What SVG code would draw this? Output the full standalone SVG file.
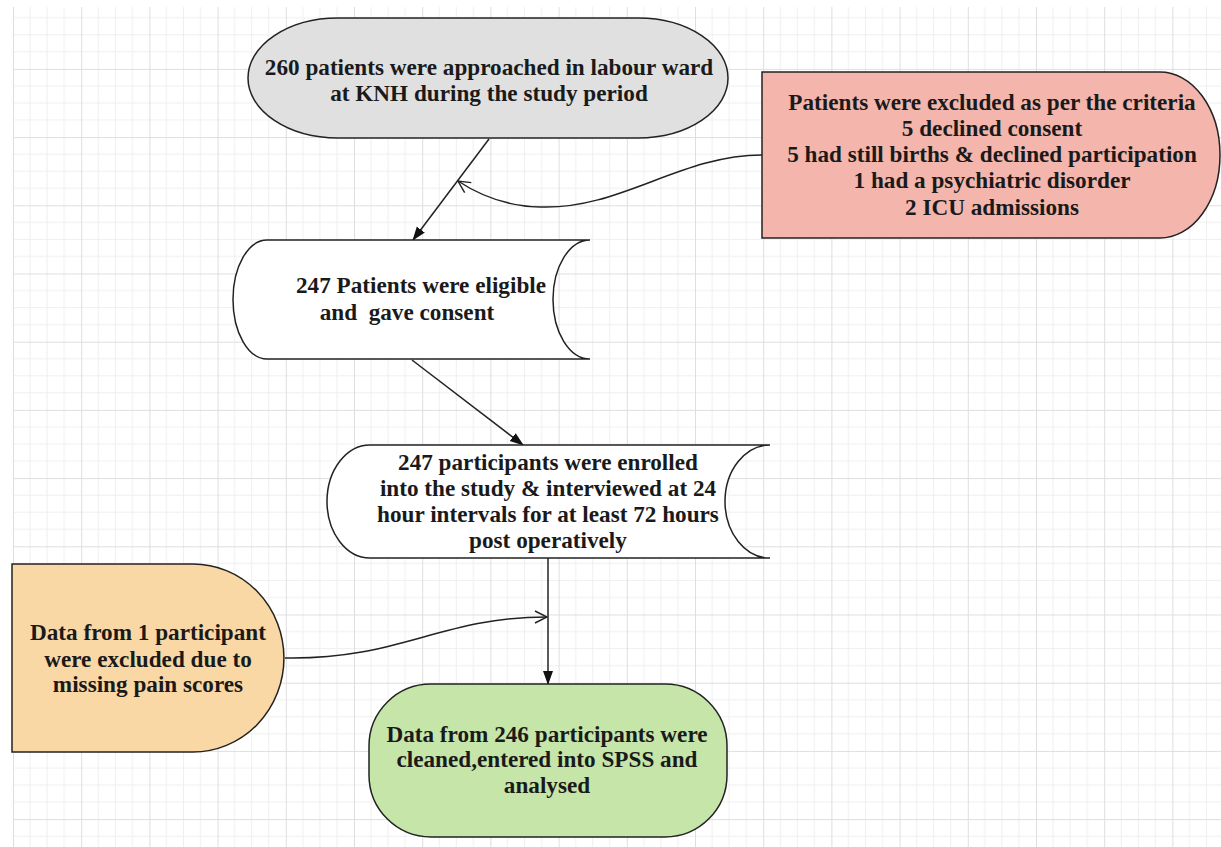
<svg xmlns="http://www.w3.org/2000/svg" width="1221" height="847" viewBox="0 0 1221 847">
<defs>
<pattern id="grid" patternUnits="userSpaceOnUse" x="13" y="0.7" width="68.2" height="68.2">
<path d="M17.05,0V68.2M34.1,0V68.2M51.15,0V68.2M0,17.05H68.2M0,34.1H68.2M0,51.15H68.2" stroke="#efefef" stroke-width="1" fill="none"/>
<path d="M0.5,0V68.2M0,0.5H68.2" stroke="#dedede" stroke-width="1" fill="none"/>
</pattern>
<marker id="solid" markerUnits="userSpaceOnUse" markerWidth="14" markerHeight="12" viewBox="0 0 14 12" refX="13" refY="6" orient="auto">
<path d="M0,1 L14,6 L0,11 Z" fill="#111"/>
</marker>
<marker id="open" markerUnits="userSpaceOnUse" markerWidth="14" markerHeight="14" viewBox="0 0 14 14" refX="13" refY="7" orient="auto">
<path d="M1,1 L13,7 L1,13" fill="none" stroke="#222" stroke-width="1.4"/>
</marker>
</defs>
<style>
.node{stroke:#222;stroke-width:1.5}
.t{font-family:"Liberation Serif","Times New Roman",serif;font-weight:bold;font-size:23.2px;fill:#1a1a1a;text-anchor:middle}
.c{fill:none;stroke:#222;stroke-width:1.5}
</style>
<rect width="1221" height="847" fill="#fff"/>
<rect x="13" y="7" width="1208" height="840" fill="url(#grid)"/>

<g id="connectors">
<path class="c" d="M489,139 L413,240" marker-end="url(#solid)"/>
<path class="c" d="M762,155 C680,155 620,210 540,207 C502,206 476,193 458,181" marker-end="url(#open)"/>
<path class="c" d="M412,360 L523,445" marker-end="url(#solid)"/>
<path class="c" d="M548,558 L548,684" marker-end="url(#solid)"/>
<path class="c" d="M285,658 C400,660 440,617 547,617" marker-end="url(#open)"/>
</g>

<g id="node-approached">
<path class="node" fill="#e0e0e0" d="M338,18 H638 A90,60 0 0 1 638,138 H338 A90,60 0 0 1 338,18 Z"/>
<text class="t" x="489" y="75">260 patients were approached in labour ward</text>
<text class="t" x="489" y="101">at KNH during the study period</text>
</g>

<g id="node-excluded">
<path class="node" fill="#f4b5ac" d="M762,72 H1160 A60,83 0 0 1 1160,238 H762 Z"/>
<text class="t" x="992" y="110">Patients were excluded as per the criteria</text>
<text class="t" x="992" y="136">5 declined consent</text>
<text class="t" x="992" y="162">5 had still births &amp; declined participation</text>
<text class="t" x="992" y="188">1 had a psychiatric disorder</text>
<text class="t" x="992" y="215">2 ICU admissions</text>
</g>

<g id="node-eligible">
<path class="node" fill="#fff" d="M267,240 H590 A37,59.5 0 0 0 590,359 H267 A34,59.5 0 0 1 267,240 Z"/>
<text class="t" x="421" y="293">247 Patients were eligible</text>
<text class="t" x="407" y="320" xml:space="preserve">and  gave consent</text>
</g>

<g id="node-enrolled">
<path class="node" fill="#fff" d="M370,445 H770 A45,56.5 0 0 0 770,558 H370 A43,56.5 0 0 1 370,445 Z"/>
<text class="t" x="548" y="470">247 participants were enrolled</text>
<text class="t" x="548" y="496">into the study &amp; interviewed at 24</text>
<text class="t" x="548" y="522">hour intervals for at least 72 hours</text>
<text class="t" x="548" y="548">post operatively</text>
</g>

<g id="node-missing">
<path class="node" fill="#f9d8a5" d="M12,564 H193 A91,94 0 0 1 193,752 H12 Z"/>
<text class="t" x="148" y="640">Data from 1 participant</text>
<text class="t" x="148" y="667">were excluded due to</text>
<text class="t" x="148" y="692">missing pain scores</text>
</g>

<g id="node-analysed">
<rect class="node" fill="#c6e5a9" x="369" y="684" width="358" height="153" rx="62" ry="62"/>
<text class="t" x="547" y="742">Data from 246 participants were</text>
<text class="t" x="547" y="767">cleaned,entered into SPSS and</text>
<text class="t" x="547" y="793">analysed</text>
</g>
</svg>
